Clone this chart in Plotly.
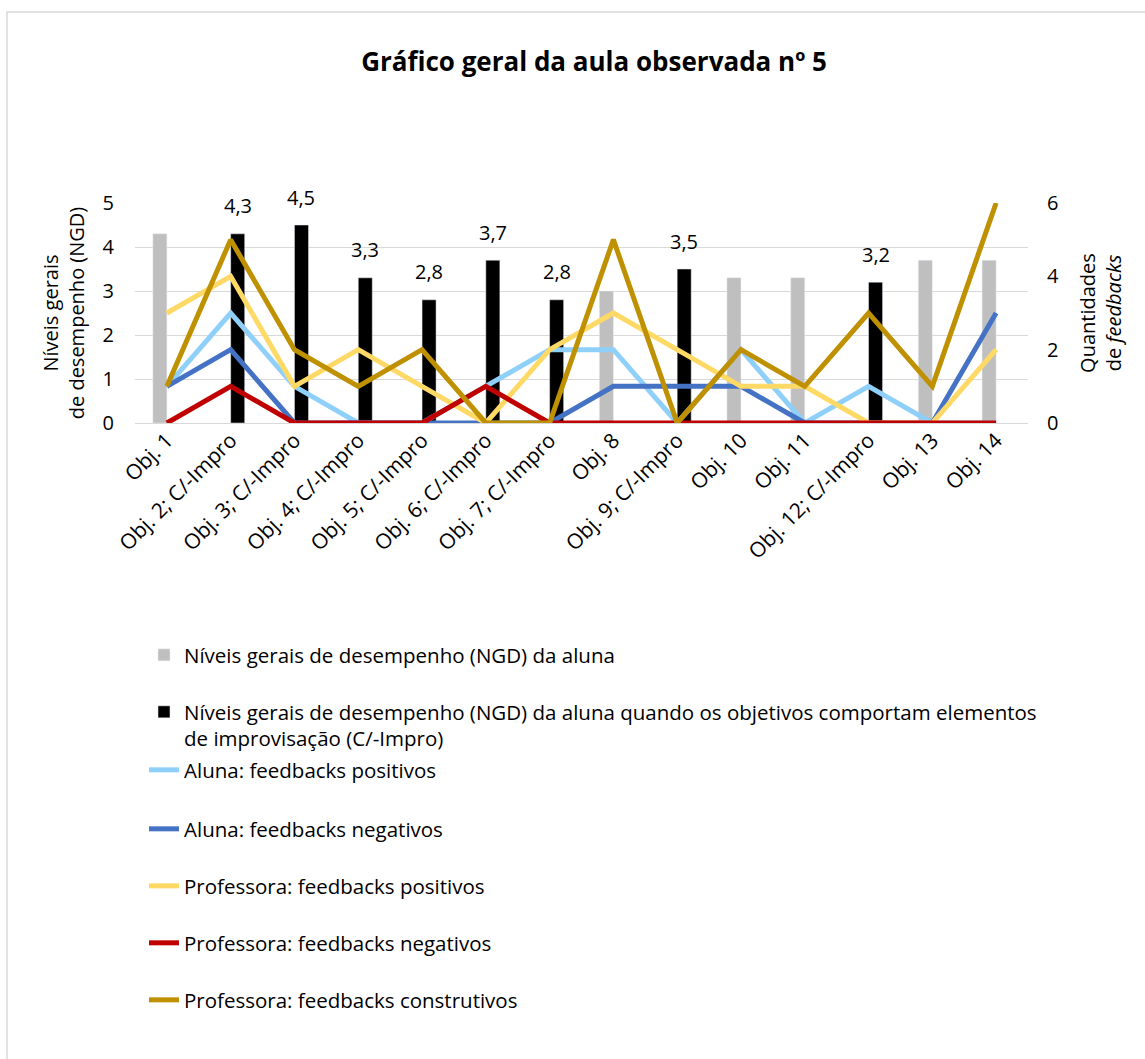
import plotly.graph_objects as go

# Objectives observed in lesson 5
categories = [
    "Obj. 1", "Obj. 2; C/-Impro", "Obj. 3; C/-Impro", "Obj. 4; C/-Impro",
    "Obj. 5; C/-Impro", "Obj. 6; C/-Impro", "Obj. 7; C/-Impro", "Obj. 8",
    "Obj. 9; C/-Impro", "Obj. 10", "Obj. 11", "Obj. 12; C/-Impro",
    "Obj. 13", "Obj. 14",
]

# General performance levels (left axis)
ngd_aluna = [4.3, None, None, None, None, None, None, 3.0, None, 3.3, 3.3, None, 3.7, 3.7]
ngd_impro = [None, 4.3, 4.5, 3.3, 2.8, 3.7, 2.8, None, 3.5, None, None, 3.2, None, None]

# Feedback counts (right axis)
aluna_pos = [1, 3, 1, 0, 0, 1, 2, 2, 0, 2, 0, 1, 0, 0]
aluna_neg = [1, 2, 0, 0, 0, 0, 0, 1, 1, 1, 0, 0, 0, 3]
prof_pos = [3, 4, 1, 2, 1, 0, 2, 3, 2, 1, 1, 0, 0, 2]
prof_neg = [0, 1, 0, 0, 0, 1, 0, 0, 0, 0, 0, 0, 0, 0]
prof_constr = [1, 5, 2, 1, 2, 0, 0, 5, 0, 2, 1, 3, 1, 6]

FONT = "Open Sans"
FS = 20.5

# plot area in pixels
W, H = 1145, 1059
L, R, T, B = 135, 1028, 203, 423
PW, PH = R - L, B - T


def px_x(x):
    return (x - L) / PW


def px_y(y):
    return (B - y) / PH


fig = go.Figure()

fig.add_trace(go.Bar(
    x=categories, y=ngd_aluna, marker_color="#BFBFBF",
    name="Níveis gerais de desempenho (NGD) da aluna", legend="legend",
))
fig.add_trace(go.Bar(
    x=categories, y=ngd_impro, marker_color="#000000",
    name="Níveis gerais de desempenho (NGD) da aluna quando os objetivos comportam elementos<br>de improvisação (C/-Impro)",
    legend="legend2",
))

lines = [
    ("Aluna: feedbacks positivos", aluna_pos, "#8FD0FA", "legend3"),
    ("Aluna: feedbacks negativos", aluna_neg, "#4472C4", "legend4"),
    ("Professora: feedbacks positivos", prof_pos, "#FFD966", "legend5"),
    ("Professora: feedbacks negativos", prof_neg, "#C00000", "legend6"),
    ("Professora: feedbacks construtivos", prof_constr, "#BF9000", "legend7"),
]
for name, vals, color, lg in lines:
    fig.add_trace(go.Scatter(
        x=categories, y=vals, yaxis="y2", mode="lines", name=name,
        line=dict(color=color, width=5), legend=lg, cliponaxis=False,
    ))

# value labels above the C/-Impro bars
for cat, v in zip(categories, ngd_impro):
    if v is None:
        continue
    fig.add_annotation(
        x=cat, y=v, xref="x", yref="y", text=f"{v:.1f}".replace(".", ","),
        showarrow=False, xshift=7, yshift=28, yanchor="middle",
        font=dict(family=FONT, size=20, color="#000000"),
    )

# outer chart border
fig.add_shape(
    type="rect", xref="paper", yref="paper", layer="below",
    x0=px_x(7), y0=px_y(12), x1=px_x(1160), y1=px_y(1075),
    line=dict(color="#D9D9D9", width=1.5), fillcolor="rgba(0,0,0,0)",
)

# one legend per entry, stacked below the plot (container coordinates)
legend_rows = [655, 712, 770, 829, 886, 943, 1000]
legends = {}
for i, ypx in enumerate(legend_rows):
    key = "legend" if i == 0 else f"legend{i + 1}"
    cfg = dict(
        x=px_x(144), xanchor="left", xref="paper",
        y=1 - ypx / H, yanchor="middle", yref="container",
        font=dict(family=FONT, size=FS, color="#000000"),
        bgcolor="rgba(0,0,0,0)", itemwidth=30,
    )
    if i == 1:
        cfg.update(valign="top", yanchor="top", y=1 - (ypx - 20) / H)
    legends[key] = cfg

fig.update_layout(
    width=W, height=H,
    margin=dict(l=L, r=W - R, t=T, b=H - B),
    paper_bgcolor="white", plot_bgcolor="white",
    font=dict(family=FONT, size=FS, color="#000000"),
    barmode="group", bargap=0.56, bargroupgap=0,
    showlegend=True,
    title=dict(
        text="<b>Gráfico geral da aula observada nº 5</b>",
        x=594 / W, xanchor="center", xref="container",
        y=1 - 62 / H, yanchor="middle", yref="container",
        font=dict(family=FONT, size=26, color="#000000"),
    ),
    xaxis=dict(
        tickangle=-45, tickfont=dict(family=FONT, size=21),
        showgrid=False, showline=False, ticks="",
    ),
    yaxis=dict(
        range=[0, 5], dtick=1, showgrid=True, gridcolor="#D9D9D9", gridwidth=1,
        zeroline=True, zerolinecolor="#D9D9D9", zerolinewidth=1,
        tickfont=dict(family=FONT, size=20), ticklabelstandoff=20,
        title=dict(text="Níveis gerais<br>de desempenho (NGD)",
                   font=dict(family=FONT, size=20), standoff=12),
    ),
    yaxis2=dict(
        range=[0, 6], dtick=2, overlaying="y", side="right", showgrid=False,
        zeroline=False, tickfont=dict(family=FONT, size=20), ticklabelstandoff=18,
        title=dict(text="Quantidades<br>de <i>feedbacks</i>",
                   font=dict(family=FONT, size=20), standoff=22),
    ),
    **legends,
)

fig.write_html("out.html")
